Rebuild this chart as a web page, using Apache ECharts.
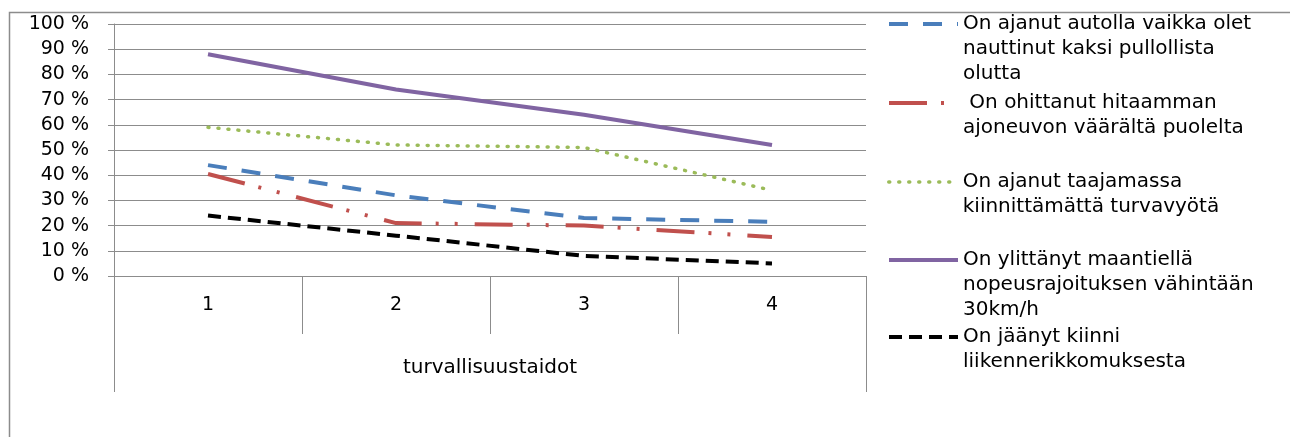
<!DOCTYPE html>
<html>
<head>
<meta charset="utf-8">
<script src="https://cdn.jsdelivr.net/npm/echarts@6/dist/echarts.min.js"></script>
<style>
  html, body { margin: 0; padding: 0; background: #fff; }
  #chart { width: 1290px; height: 437px; }
</style>
</head>
<body>
<div id="chart"></div>
<script>
// ---- data ----
const categories = ['1', '2', '3', '4'];
const axisTitle = 'turvallisuustaidot';
const yTicks = [0, 10, 20, 30, 40, 50, 60, 70, 80, 90, 100];

const seriesNames = [
  'On ajanut autolla vaikka olet nauttinut kaksi pullollista olutta',
  'On ohittanut hitaamman ajoneuvon väärältä puolelta',
  'On ajanut taajamassa kiinnittämättä turvavyötä',
  'On ylittänyt maantiellä nopeusrajoituksen vähintään 30km/h',
  'On jäänyt kiinni liikennerikkomuksesta'
];
const legendLines = [
  ['On ajanut autolla vaikka olet', 'nauttinut kaksi pullollista', 'olutta'],
  [' On ohittanut hitaamman', 'ajoneuvon väärältä puolelta'],
  ['On ajanut taajamassa', 'kiinnittämättä turvavyötä'],
  ['On ylittänyt maantiellä', 'nopeusrajoituksen vähintään', '30km/h'],
  ['On jäänyt kiinni', 'liikennerikkomuksesta']
];
const beerDriving   = [44, 32, 23, 21.5];
const wrongSidePass = [40.5, 21, 20, 15.5];
const noSeatbelt    = [59, 52, 51, 34];
const speeding      = [88, 74, 64, 52];
const caught        = [24, 16, 8, 5];

// ---- styles ----
const FONT = '"DejaVu Sans", "Noto Sans", sans-serif';
const GRID_C = '#8c8c8c';
const styles = [
  { color: '#4a7ebb', width: 4, type: [19, 15], cap: 'butt' },
  { color: '#c0504d', width: 4, type: [38, 14, 3, 16, 3, 17], cap: 'butt' },
  { color: '#9bbb59', width: 3.5, type: [1, 9], cap: 'round' },
  { color: '#8064a2', width: 4, type: 'solid', cap: 'butt' },
  { color: '#000000', width: 4, type: [13, 7], cap: 'butt' }
];
const values = [beerDriving, wrongSidePass, noSeatbelt, speeding, caught];
const legendSymbolY = [24, 103, 182, 260, 337];
const LH = 25;

const series = seriesNames.map((n, i) => ({
  name: n,
  type: 'line',
  data: values[i],
  symbol: 'none',
  smooth: false,
  color: styles[i].color,
  lineStyle: { color: styles[i].color, width: styles[i].width, type: styles[i].type, cap: styles[i].cap },
  animation: false
}));

const legends = seriesNames.map((n, i) => {
  const k = legendLines[i].length;
  return {
    data: [n],
    orient: 'vertical',
    left: 887,
    top: legendSymbolY[i] - (2 * k - 1) * LH / 2,
    padding: 0,
    itemWidth: 69,
    itemHeight: 14,
    itemGap: 0,
    selectedMode: false,
    itemStyle: { opacity: 0, color: 'transparent', borderWidth: 0 },
    lineStyle: {
      color: styles[i].color,
      width: styles[i].width,
      type: styles[i].type,
      cap: styles[i].cap,
      opacity: 1
    },
    formatter: () => '\n'.repeat(k - 1) + legendLines[i].join('\n'),
    textStyle: {
      fontFamily: FONT,
      fontSize: 20,
      color: '#000',
      lineHeight: LH
    }
  };
});

const chart = echarts.init(document.getElementById('chart'), null, { renderer: 'canvas' });
chart.setOption({
  backgroundColor: '#fff',
  animation: false,
  graphic: [{
    type: 'rect',
    left: 7, top: 10,
    shape: { width: 1400, height: 600 },
    style: { fill: 'none', stroke: '#8c8c8c', lineWidth: 1.5 },
    silent: true
  }],
  legend: legends,
  grid: { left: 114, right: 424, top: 24, bottom: 161, containLabel: false },
  xAxis: [{
    type: 'category',
    data: categories,
    boundaryGap: true,
    axisLine: { show: true, lineStyle: { color: GRID_C, width: 1 } },
    axisTick: { show: true, interval: 0, length: 58, lineStyle: { color: GRID_C } },
    axisLabel: { fontFamily: FONT, fontSize: 19, color: '#000', margin: 20 }
  }, {
    type: 'category',
    data: [axisTitle],
    position: 'bottom',
    offset: 58,
    boundaryGap: true,
    axisLine: { show: false },
    axisTick: { show: true, interval: 0, length: 58, lineStyle: { color: GRID_C } },
    axisLabel: { fontFamily: FONT, fontSize: 20, color: '#000', margin: 24 }
  }],
  yAxis: {
    type: 'value',
    min: yTicks[0],
    max: yTicks[yTicks.length - 1],
    interval: yTicks[1] - yTicks[0],
    axisLine: { show: true, lineStyle: { color: GRID_C, width: 1 } },
    axisTick: { show: true, length: 6, lineStyle: { color: GRID_C } },
    axisLabel: { fontFamily: FONT, fontSize: 19, color: '#000', margin: 25, formatter: '{value} %' },
    splitLine: { show: true, lineStyle: { color: GRID_C, width: 1 } }
  },
  series: series
});
</script>
</body>
</html>
